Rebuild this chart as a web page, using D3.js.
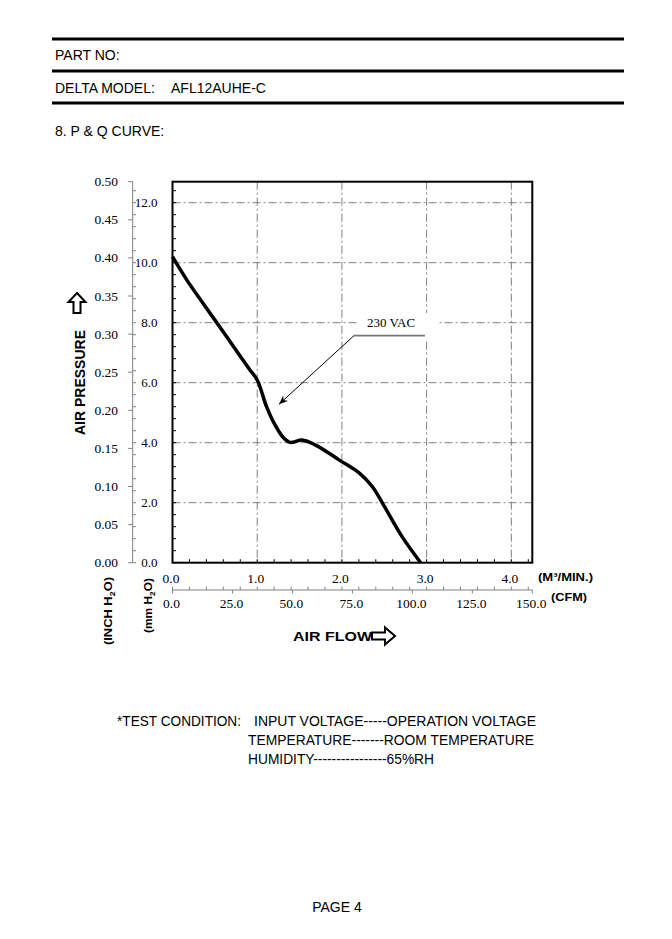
<!DOCTYPE html>
<html>
<head>
<meta charset="utf-8">
<script src="https://cdn.jsdelivr.net/npm/d3@7"></script>
<style>
  html, body { margin: 0; padding: 0; background: #fff; }
  svg { display: block; }
  .sans { font-family: "Liberation Sans", Arial, sans-serif; }
  .serif { font-family: "Liberation Serif", "Times New Roman", serif; }
</style>
</head>
<body>
<svg id="chart" width="672" height="939"></svg>
<script>
// ---------- data ----------
const flowM3 = [0, 0.17, 0.36, 0.64, 0.81, 0.91, 1.00, 1.11, 1.19, 1.30, 1.39, 1.53, 1.69, 1.97, 2.21, 2.36, 2.48, 2.71, 2.93];
const pressMM = [10.2, 9.42, 8.65, 7.53, 6.84, 6.44, 6.09, 5.2, 4.7, 4.2, 4.01, 4.09, 3.92, 3.42, 2.98, 2.53, 1.98, 0.87, 0];
const m3Ticks = [0, 1, 2, 3, 4];
const m3TickLabels = ["0.0", "1.0", "2.0", "3.0", "4.0"];
const cfmTicks = [0, 25, 50, 75, 100, 125, 150];
const cfmTickLabels = ["0.0", "25.0", "50.0", "75.0", "100.0", "125.0", "150.0"];
const inchTicks = [0, 0.05, 0.10, 0.15, 0.20, 0.25, 0.30, 0.35, 0.40, 0.45, 0.50];
const inchTickLabels = ["0.00", "0.05", "0.10", "0.15", "0.20", "0.25", "0.30", "0.35", "0.40", "0.45", "0.50"];
const mmTicks = [0, 2, 4, 6, 8, 10, 12];
const mmTickLabels = ["0.0", "2.0", "4.0", "6.0", "8.0", "10.0", "12.0"];
const seriesLabel = "230 VAC";
const annot = { labelQ: 2.58, labelP: 7.86, endQ: 2.98, elbowQ: 2.143, elbowP: 7.57, tipQ: 1.257, tipP: 5.28 };

const headerLines = [
  { label: "PART NO:", value: "" },
  { label: "DELTA MODEL:", value: "AFL12AUHE-C" }
];
const sectionTitle = "8. P & Q CURVE:";
const testLabel = "*TEST CONDITION:";
const testLines = ["INPUT VOLTAGE-----OPERATION VOLTAGE", "TEMPERATURE-------ROOM TEMPERATURE", "HUMIDITY----------------65%RH"];
const pageLabel = "PAGE 4";

// ---------- scales ----------
const CFM_PER_M3 = 35.3147;
const maxCFM = 150;
const maxM3 = maxCFM / CFM_PER_M3;
const maxInch = 0.5;
const maxMM = maxInch * 25.4;

const L = 172.5, R = 532.3, T = 181.7, B = 562.7;
const x = d3.scaleLinear().domain([0, maxM3]).range([L, R]);
const xCfm = d3.scaleLinear().domain([0, maxCFM]).range([L, R]);
const y = d3.scaleLinear().domain([0, maxMM]).range([B, T]);
const yIn = d3.scaleLinear().domain([0, maxInch]).range([B, T]);

const svg = d3.select("#chart");

// ---------- page header ----------
[39, 71, 103].forEach(yy => {
  svg.append("line").attr("x1", 52).attr("x2", 624).attr("y1", yy).attr("y2", yy)
    .attr("stroke", "#000").attr("stroke-width", 3);
});
svg.append("text").attr("class", "sans").attr("x", 55).attr("y", 60).attr("font-size", 14).text(headerLines[0].label);
svg.append("text").attr("class", "sans").attr("x", 55).attr("y", 93).attr("font-size", 14).text(headerLines[1].label);
svg.append("text").attr("class", "sans").attr("x", 171).attr("y", 93).attr("font-size", 14).text(headerLines[1].value);
svg.append("text").attr("class", "sans").attr("x", 55).attr("y", 136).attr("font-size", 14).text(sectionTitle);

// ---------- grid ----------
const grid = svg.append("g").attr("stroke", "#808080").attr("stroke-width", 1).attr("stroke-dasharray", "8,3,2,3").attr("fill", "none");
m3Ticks.filter(d => d > 0).forEach(d => {
  grid.append("line").attr("x1", x(d)).attr("x2", x(d)).attr("y1", T).attr("y2", B);
});
mmTicks.filter(d => d > 0).forEach(d => {
  grid.append("line").attr("x1", L).attr("x2", R).attr("y1", y(d)).attr("y2", y(d));
});

// inner ticks on plot frame
const inner = svg.append("g").attr("stroke", "#000").attr("stroke-width", 1);
d3.range(0, maxMM + 0.001, 0.4).forEach(d => {
  inner.append("line").attr("x1", L).attr("x2", L + 3.5).attr("y1", y(d)).attr("y2", y(d));
});
d3.range(0, maxM3 + 0.001, 0.2).forEach(d => {
  inner.append("line").attr("x1", x(d)).attr("x2", x(d)).attr("y1", B).attr("y2", B - 3.5);
});

// ---------- annotation background ----------
svg.append("rect").attr("x", x(annot.labelQ) - 34).attr("y", y(annot.labelP) - 14)
  .attr("width", 81).attr("height", 28).attr("fill", "#fff");

// ---------- frame ----------
svg.append("rect").attr("x", L).attr("y", T).attr("width", R - L).attr("height", B - T)
  .attr("fill", "none").attr("stroke", "#000").attr("stroke-width", 2);

// ---------- curve ----------
const pts = flowM3.map((q, i) => [q, pressMM[i]]);
svg.append("path").datum(pts)
  .attr("d", d3.line().x(d => x(d[0])).y(d => y(d[1])).curve(d3.curveCatmullRom.alpha(0.5)))
  .attr("fill", "none").attr("stroke", "#000").attr("stroke-width", 3.5).attr("stroke-linejoin", "round");

// ---------- annotation ----------
svg.append("defs").append("marker").attr("id", "ah").attr("viewBox", "0 0 10 10")
  .attr("refX", 10).attr("refY", 5).attr("markerWidth", 9).attr("markerHeight", 9).attr("orient", "auto")
  .attr("markerUnits", "userSpaceOnUse")
  .append("path").attr("d", "M0,1 L10,5 L0,9 L3,5 Z").attr("fill", "#000");
svg.append("line").attr("x1", x(annot.endQ)).attr("x2", x(annot.elbowQ)).attr("y1", y(annot.elbowP)).attr("y2", y(annot.elbowP))
  .attr("stroke", "#777").attr("stroke-width", 1.6);
svg.append("line").attr("x1", x(annot.elbowQ)).attr("y1", y(annot.elbowP)).attr("x2", x(annot.tipQ)).attr("y2", y(annot.tipP))
  .attr("stroke", "#000").attr("stroke-width", 1).attr("marker-end", "url(#ah)");
svg.append("text").attr("class", "serif").attr("x", x(annot.labelQ)).attr("y", y(annot.labelP))
  .attr("text-anchor", "middle").attr("font-size", 13).text(seriesLabel);

// ---------- vertical axis (inch / mm) ----------
const AX = 132.7;
const ax = svg.append("g").attr("stroke", "#808080").attr("stroke-width", 1);
ax.append("line").attr("x1", AX).attr("x2", AX).attr("y1", yIn(maxInch)).attr("y2", yIn(0));
inchTicks.forEach(d => {
  ax.append("line").attr("x1", AX - 4.5).attr("x2", AX).attr("y1", yIn(d)).attr("y2", yIn(d));
});
d3.range(0, maxMM + 0.001, 0.4).forEach(d => {
  ax.append("line").attr("x1", AX).attr("x2", AX + 3.3).attr("y1", y(d)).attr("y2", y(d));
});
inchTicks.forEach((d, i) => {
  svg.append("text").attr("class", "serif").attr("x", 118).attr("y", yIn(d) + 4.5)
    .attr("text-anchor", "end").attr("font-size", 13.5).text(inchTickLabels[i]);
});
mmTicks.forEach((d, i) => {
  svg.append("text").attr("class", "serif").attr("x", 157.5).attr("y", y(d) + 4.5)
    .attr("text-anchor", "end").attr("font-size", 13).text(mmTickLabels[i]);
});

// ---------- horizontal axis (m3/min / CFM) ----------
const AY = 590;
const bx = svg.append("g").attr("stroke", "#808080").attr("stroke-width", 1);
bx.append("line").attr("x1", L).attr("x2", R).attr("y1", AY).attr("y2", AY);
d3.range(0, maxM3 + 0.001, 0.2).forEach(d => {
  bx.append("line").attr("x1", x(d)).attr("x2", x(d)).attr("y1", AY - 3.3).attr("y2", AY);
});
cfmTicks.forEach(d => {
  bx.append("line").attr("x1", xCfm(d)).attr("x2", xCfm(d)).attr("y1", AY).attr("y2", AY + 3.5);
});
m3Ticks.forEach((d, i) => {
  svg.append("text").attr("class", "serif").attr("x", x(d) - 1.5).attr("y", 583)
    .attr("text-anchor", "middle").attr("font-size", 13.5).text(m3TickLabels[i]);
});
cfmTicks.forEach((d, i) => {
  svg.append("text").attr("class", "serif").attr("x", xCfm(d) - 1).attr("y", 608)
    .attr("text-anchor", "middle").attr("font-size", 13.5).text(cfmTickLabels[i]);
});

// ---------- axis titles ----------
svg.append("text").attr("class", "sans").attr("x", 538).attr("y", 581).attr("font-size", 11)
  .attr("font-weight", "bold").attr("textLength", 55).attr("lengthAdjust", "spacingAndGlyphs").text("(M³/MIN.)");
svg.append("text").attr("class", "sans").attr("x", 551).attr("y", 601).attr("font-size", 11)
  .attr("font-weight", "bold").attr("textLength", 36).attr("lengthAdjust", "spacingAndGlyphs").text("(CFM)");

svg.append("text").attr("class", "sans").attr("x", 293).attr("y", 641).attr("font-size", 13.5)
  .attr("font-weight", "bold").attr("textLength", 79).attr("lengthAdjust", "spacingAndGlyphs").text("AIR FLOW");
// right block arrow
svg.append("path").attr("d", "M372,632.5 L385,632.5 L385,627.5 L395,636 L385,644.5 L385,639.5 L372,639.5 Z")
  .attr("fill", "#fff").attr("stroke", "#000").attr("stroke-width", 2).attr("stroke-linejoin", "miter");

svg.append("text").attr("class", "sans").attr("transform", "translate(85,382.5) rotate(-90)")
  .attr("text-anchor", "middle").attr("font-size", 14).attr("font-weight", "bold")
  .attr("textLength", 105).attr("lengthAdjust", "spacingAndGlyphs").text("AIR PRESSURE");
// up block arrow
svg.append("path").attr("d", "M73.5,313 L73.5,302 L68.5,302 L77,293 L85.5,302 L80.5,302 L80.5,313 Z")
  .attr("fill", "#fff").attr("stroke", "#000").attr("stroke-width", 2).attr("stroke-linejoin", "miter");

function unitLabel(cx, cy, pre, post, len) {
  const t = svg.append("text").attr("class", "sans").attr("transform", `translate(${cx},${cy}) rotate(-90)`)
    .attr("text-anchor", "middle").attr("font-size", 11.5).attr("font-weight", "bold")
    .attr("textLength", len).attr("lengthAdjust", "spacingAndGlyphs");
  t.append("tspan").text(pre);
  t.append("tspan").attr("font-size", 8).attr("dy", 3).text("2");
  t.append("tspan").attr("dy", -3).text(post);
}
unitLabel(111.5, 611, "(INCH H", "O)", 68);
unitLabel(152, 605.5, "(mm H", "O)", 55);

// ---------- test condition ----------
svg.append("text").attr("class", "sans").attr("x", 117).attr("y", 726).attr("font-size", 14)
  .attr("textLength", 124).attr("lengthAdjust", "spacingAndGlyphs").text(testLabel);
const testLens = [282, 286, 186];
testLines.forEach((s, i) => {
  svg.append("text").attr("class", "sans").attr("x", i === 0 ? 254 : 248).attr("y", 726 + i * 19)
    .attr("font-size", 14).attr("textLength", testLens[i]).attr("lengthAdjust", "spacingAndGlyphs").text(s);
});
svg.append("text").attr("class", "sans").attr("x", 337).attr("y", 912).attr("text-anchor", "middle")
  .attr("font-size", 14).text(pageLabel);
</script>
</body>
</html>
